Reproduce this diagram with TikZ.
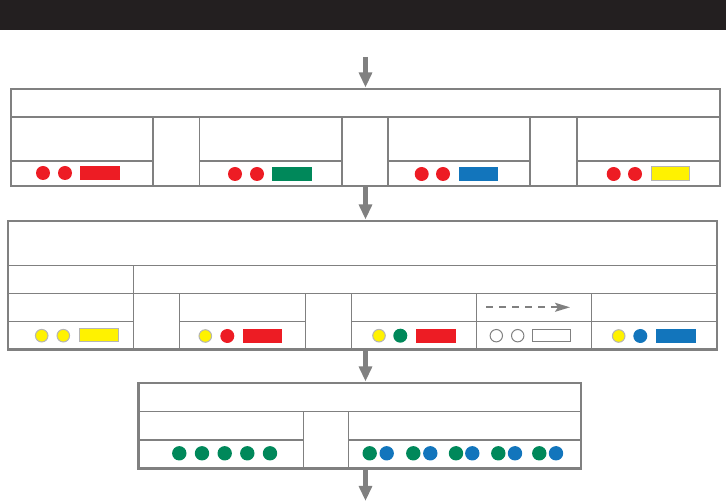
\documentclass[tikz,border=0pt]{standalone}
\usetikzlibrary{arrows.meta}
\definecolor{band}{HTML}{231F20}
\definecolor{ln}{HTML}{808080}
\definecolor{rd}{HTML}{ED1C24}
\definecolor{gn}{HTML}{00885A}
\definecolor{bl}{HTML}{1275BC}
\definecolor{yl}{HTML}{FFF200}
\definecolor{yb}{HTML}{B5B5B5}
\begin{document}
\begin{tikzpicture}[x=1pt,y=-1pt,
  outer/.style={draw=ln, line width=2.5pt, inner sep=0pt, outer sep=0pt, anchor=north west},
  grid/.style={draw=ln, line width=1.5pt},
  flow/.style={draw=ln, line width=4.7pt, -{Triangle[length=15pt,width=12.7pt]}},
  dashflow/.style={draw=ln, line width=1.6pt, dash pattern=on 7pt off 6pt, -{Stealth[length=15pt,width=9pt,inset=3pt]}},
  rdot/.style={fill=rd},
  gdot/.style={fill=gn},
  bdot/.style={fill=bl},
  ydot/.style={fill=yl, draw=yb, line width=1pt},
  odot/.style={fill=white, draw=ln, line width=1pt}]
\useasboundingbox (0,0) rectangle (726,502);
\fill[band] (0,0) rectangle (726,30);

% ---------- box 1 ----------
\node[outer, minimum width=709pt, minimum height=97pt] (box1) at (11,89) {};
\draw[grid] (11,117) -- (720,117);
\foreach \a/\b in {11/153, 199.5/342, 388/530, 577/720} \draw[grid] (\a,161) -- (\b,161);
\foreach \x in {153,199.5,342,388,530,577} \draw[grid] (\x,117) -- (\x,186);
\fill[rdot] (43,173) circle (7pt) (65,173) circle (7pt);
\fill[rd] (80,166) rectangle (120,180);
\fill[rdot] (235,174) circle (7pt) (257,174) circle (7pt);
\fill[gn] (272,167) rectangle (312,181);
\fill[rdot] (421.7,174) circle (7pt) (443,174) circle (7pt);
\fill[bl] (459,167) rectangle (497.7,180.7);
\fill[rdot] (613.7,174) circle (7pt) (635,174) circle (7pt);
\filldraw[fill=yl, draw=yb, line width=1pt] (651,167) rectangle (689.7,180.3);

% ---------- box 2 ----------
\node[outer, minimum width=709pt, minimum height=128.7pt] (box2) at (8,221) {};
\draw[grid] (8,265.7) -- (717,265.7);
\draw[grid] (8,293.7) -- (717,293.7);
\draw[grid] (133.3,265.7) -- (133.3,349.7);
\foreach \x in {179.3,305.3,351.3,476.7,591.3} \draw[grid] (\x,293.7) -- (\x,349.7);
\foreach \a/\b in {8/133.3, 179.3/305.3, 351.3/717} \draw[grid] (\a,321.7) -- (\b,321.7);
% cell A
\filldraw[ydot] (41.7,335.7) circle (6.3pt) (63.3,335.7) circle (6.3pt);
\filldraw[fill=yl, draw=yb, line width=1pt] (79.3,328.7) rectangle (118.3,342);
% cell B
\filldraw[ydot] (205.3,336) circle (6.3pt);
\fill[rdot] (227.3,336) circle (7pt);
\fill[rd] (243,329) rectangle (282,342.7);
% cell C
\filldraw[ydot] (379,335.7) circle (6.3pt);
\fill[gdot] (400.3,335.7) circle (7pt);
\fill[rd] (416,329) rectangle (456,342.7);
% cell D
\coordinate (ds) at (486,307.3);
\coordinate (de) at (570,307.3);
\draw[dashflow] (ds) -- (de);
\filldraw[odot] (496.3,335.7) circle (6.2pt) (517.7,335.7) circle (6.2pt);
\draw[ln, line width=1pt] (532.3,329.3) rectangle (570.7,342);
% cell E
\filldraw[ydot] (618.7,336) circle (6.3pt);
\fill[bdot] (640.3,336) circle (7pt);
\fill[bl] (656.3,329) rectangle (696,342.7);

% ---------- box 3 ----------
\node[outer, minimum width=442.3pt, minimum height=85.3pt] (box3) at (138.7,383) {};
\draw[grid] (138.7,411.3) -- (581,411.3);
\foreach \a/\b in {138.7/303.3, 348.7/581} \draw[grid] (\a,440) -- (\b,440);
\foreach \x in {303.3,348.7} \draw[grid] (\x,411.3) -- (\x,468.3);
\foreach \x in {179.3,202,224.7,247.3,270} \fill[gdot] (\x,453.3) circle (7.2pt);
\foreach \g/\b in {369.7/386.7, 413.3/430.3, 456/472.3, 498.3/515, 539.3/556}
  {\fill[gdot] (\g,453.3) circle (7.2pt); \fill[bdot] (\b,453.3) circle (7.2pt);}

% ---------- flow arrows ----------
\coordinate (ax) at (365.5,0);
\coordinate (in) at (365.5,57);
\coordinate (out) at (365.5,501);
\draw[flow] (in) -- ([yshift=1.5pt]box1.north -| ax);
\draw[flow] (box1.south -| ax) -- ([yshift=1.5pt]box2.north -| ax);
\draw[flow] (box2.south -| ax) -- ([yshift=1.5pt]box3.north -| ax);
\draw[flow] (box3.south -| ax) -- (out);
\end{tikzpicture}
\end{document}
